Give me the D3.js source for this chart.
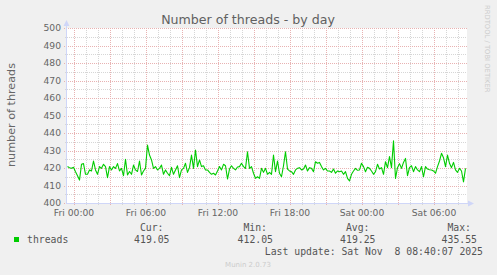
<!DOCTYPE html>
<html>
<head>
<meta charset="utf-8">
<script src="https://cdn.jsdelivr.net/npm/d3@7"></script>
<style>
  html, body { margin: 0; padding: 0; background: #f0f0f0; }
  svg { display: block; }
  text { font-family: "DejaVu Sans", sans-serif; }
  .mono { font-family: "DejaVu Sans Mono", monospace; white-space: pre; }
</style>
</head>
<body>
<svg id="chart" width="497" height="275"></svg>
<script>
const TITLE = 'Number of threads - by day';
const Y_LABEL = 'number of threads';
const WATERMARK = 'RRDTOOL / TOBI OETIKER';
const FOOTER = 'Munin 2.0.73';
const LAST_UPDATE = 'Last update: Sat Nov  8 08:40:07 2025';

// graph window (UTC), one sample every 10 minutes
const START = Date.UTC(2025, 10, 6, 23, 25);
const END = Date.UTC(2025, 10, 8, 8, 45);
const STEP_MIN = 10;

const THREADS = [
  420.8, 420.2, 419.8, 420.4, 417.9, 415.6, 413.1, 422.1, 422.5, 416.4,
  416.4, 418.9, 418.3, 424.0, 418.9, 416.4, 420.8, 419.8, 422.1, 420.8,
  414.5, 420.8, 418.9, 420.8, 419.8, 422.5, 418.3, 419.8, 415.6, 425.0,
  416.0, 418.0, 416.4, 421.7, 418.9, 418.0, 424.0, 416.0, 418.3, 419.8,
  433.1, 427.4, 424.6, 419.8, 420.8, 418.9, 419.8, 421.7, 416.4, 418.9,
  417.0, 415.6,
  420.4, 416.4, 418.9, 421.3, 414.5, 418.9, 419.8, 422.7, 417.5, 420.2,
  427.4, 419.8, 430.3, 420.8, 424.6, 420.8, 421.3, 418.9, 418.9, 417.5,
  416.4, 417.0, 416.0, 418.3, 420.8, 418.9, 422.1, 421.3, 413.7, 419.4,
  421.3, 419.8, 418.9, 420.6, 420.8, 422.7, 420.8, 419.8, 429.3, 419.8,
  420.8, 417.0, 414.1, 415.0, 414.1, 419.8, 417.5, 419.8, 416.4, 417.5,
  416.4, 427.4, 417.9, 424.0, 417.0, 415.0, 421.3, 429.3, 419.4, 418.3,
  417.9, 416.4, 418.9, 419.8, 420.2, 418.9, 419.4, 421.7, 418.3, 420.2,
  419.8, 417.9, 423.6, 422.7, 423.2, 420.8, 418.9, 419.8, 418.3, 418.3,
  417.5, 419.4, 417.0, 418.3, 417.9, 418.3, 416.4, 417.9, 414.1, 412.6,
  416.4, 418.3, 419.8, 418.7, 418.9, 422.7, 420.8, 417.9, 420.4, 419.8,
  418.3, 416.4, 417.9, 422.1, 419.4, 420.2, 416.4, 423.6, 420.2, 426.5,
  420.2, 435.5, 414.0, 420.2, 422.5, 419.8, 423.2, 425.5, 415.6, 420.2,
  421.3, 417.9, 420.8, 418.9, 417.9, 420.8, 415.0, 420.8, 419.4, 419.0,
  418.9, 418.3, 417.0, 420.8, 424.0, 428.4, 425.9, 420.8, 427.4, 422.7,
  420.2, 423.2, 418.9, 417.5, 419.8, 418.3, 412.1, 419.8,
];

const Y_TICKS = [400, 410, 420, 430, 440, 450, 460, 470, 480, 490, 500];

const STATS_LABELS = ['Cur:', 'Min:', 'Avg:', 'Max:'];
const STATS_VALUES = ['419.05', '412.05', '419.25', '435.55'];

const FONT = '#666666';
const AXIS = '#CFD6F8';
const GRID = '#d6d6d6';
const MGRID = '#e8b2b2';
const LINE = '#00CC00';

const plot = { left: 67, right: 467, top: 28, bottom: 203 };
const svg = d3.select('#chart');

svg.append('rect').attr('width', 497).attr('height', 275).attr('fill', '#f0f0f0');
svg.append('rect')
  .attr('x', plot.left).attr('y', plot.top)
  .attr('width', plot.right - plot.left).attr('height', plot.bottom - plot.top)
  .attr('fill', '#fff');

const x = d3.scaleUtc().domain([START, END]).range([plot.left, plot.right]);
const y = d3.scaleLinear().domain([400, 500]).range([plot.bottom, plot.top]);
const px = v => Math.round(v) + 0.5;

const grid = svg.append('g').attr('fill', 'none').attr('stroke-width', 1).attr('stroke-dasharray', '1,1');

// minor grid
const minorY = y.ticks(20).filter(d => d % 10 !== 0);
grid.selectAll('line.ymin').data(minorY).join('line')
  .attr('x1', plot.left - 2).attr('x2', plot.right)
  .attr('y1', d => px(y(d))).attr('y2', d => px(y(d)))
  .attr('stroke', GRID);
const minorX = x.ticks(d3.utcHour.every(1)).filter(d => d.getUTCHours() % 3 !== 0);
grid.selectAll('line.xmin').data(minorX).join('line')
  .attr('x1', d => px(x(d))).attr('x2', d => px(x(d)))
  .attr('y1', plot.top).attr('y2', plot.bottom + 2)
  .attr('stroke', GRID);

// major grid
grid.selectAll('line.ymaj').data(Y_TICKS).join('line')
  .attr('x1', plot.left - 3).attr('x2', plot.right)
  .attr('y1', d => px(y(d))).attr('y2', d => px(y(d)))
  .attr('stroke', MGRID);
const majorX = x.ticks(d3.utcHour.every(3));
grid.selectAll('line.xmaj').data(majorX).join('line')
  .attr('x1', d => px(x(d))).attr('x2', d => px(x(d)))
  .attr('y1', plot.top).attr('y2', plot.bottom + 3)
  .attr('stroke', MGRID);

// axes + arrows
svg.append('line')
  .attr('x1', plot.left - 0.5).attr('x2', plot.left - 0.5)
  .attr('y1', plot.top - 4).attr('y2', plot.bottom + 1)
  .attr('stroke', AXIS);
svg.append('line')
  .attr('x1', plot.left - 1).attr('x2', plot.right + 3)
  .attr('y1', plot.bottom + 0.5).attr('y2', plot.bottom + 0.5)
  .attr('stroke', AXIS);
svg.append('path')
  .attr('d', `M${plot.left - 3.5},${plot.top - 2}L${plot.left + 2.5},${plot.top - 2}L${plot.left - 0.5},${plot.top - 8}Z`)
  .attr('fill', AXIS);
svg.append('path')
  .attr('d', `M${plot.right + 1},${plot.bottom - 2.5}L${plot.right + 1},${plot.bottom + 3.5}L${plot.right + 7},${plot.bottom + 0.5}Z`)
  .attr('fill', AXIS);

// series
const line = d3.line()
  .x((d, i) => x(START + i * STEP_MIN * 60000) + 0.5)
  .y(d => y(d));
svg.append('path')
  .datum(THREADS)
  .attr('d', line)
  .attr('fill', 'none')
  .attr('stroke', LINE)
  .attr('stroke-width', 1.1)
  .attr('stroke-linejoin', 'round');

// tick labels
svg.append('g').selectAll('text').data(Y_TICKS).join('text')
  .attr('x', 61).attr('y', d => y(d)).attr('dy', '0.36em')
  .attr('text-anchor', 'end')
  .attr('font-size', 9.2)
  .attr('fill', FONT)
  .text(d => d);

const fmt = d3.utcFormat('%a %H:%M');
svg.append('g').selectAll('text').data(x.ticks(d3.utcHour.every(6))).join('text')
  .attr('x', d => x(d)).attr('y', 216)
  .attr('text-anchor', 'middle')
  .attr('font-size', 9.2)
  .attr('fill', FONT)
  .text(d => fmt(d));

// titles
svg.append('text')
  .attr('x', 248).attr('y', 24)
  .attr('text-anchor', 'middle')
  .attr('font-size', 12.6)
  .attr('fill', '#606060')
  .text(TITLE);

svg.append('text')
  .attr('transform', 'translate(15,115) rotate(-90)')
  .attr('text-anchor', 'middle')
  .attr('font-size', 11.2)
  .attr('fill', FONT)
  .text(Y_LABEL);

svg.append('text')
  .attr('transform', 'translate(485,5) rotate(90)')
  .attr('font-size', 6.8)
  .attr('fill', '#cccccc')
  .text(WATERMARK);

// legend
const legend = svg.append('g').attr('class', 'mono').attr('font-size', 9.8).attr('fill', '#555');
legend.append('rect').attr('x', 14).attr('y', 237).attr('width', 5).attr('height', 5).attr('fill', LINE);
legend.append('text').attr('class', 'mono').attr('x', 27).attr('y', 243).text('threads');

const valueEnds = [169.5, 273, 375.5, 477];
STATS_LABELS.forEach((lab, i) => {
  legend.append('text').attr('class', 'mono')
    .attr('x', valueEnds[i] - 6).attr('y', 231)
    .attr('text-anchor', 'end').text(lab);
  legend.append('text').attr('class', 'mono')
    .attr('x', valueEnds[i]).attr('y', 243)
    .attr('text-anchor', 'end').text(STATS_VALUES[i]);
});
legend.append('text').attr('class', 'mono')
  .attr('x', 483).attr('y', 255)
  .attr('text-anchor', 'end').text(LAST_UPDATE);

svg.append('text')
  .attr('x', 248).attr('y', 267)
  .attr('text-anchor', 'middle')
  .attr('font-size', 7)
  .attr('fill', '#cccccc')
  .text(FOOTER);
</script>
</body>
</html>
